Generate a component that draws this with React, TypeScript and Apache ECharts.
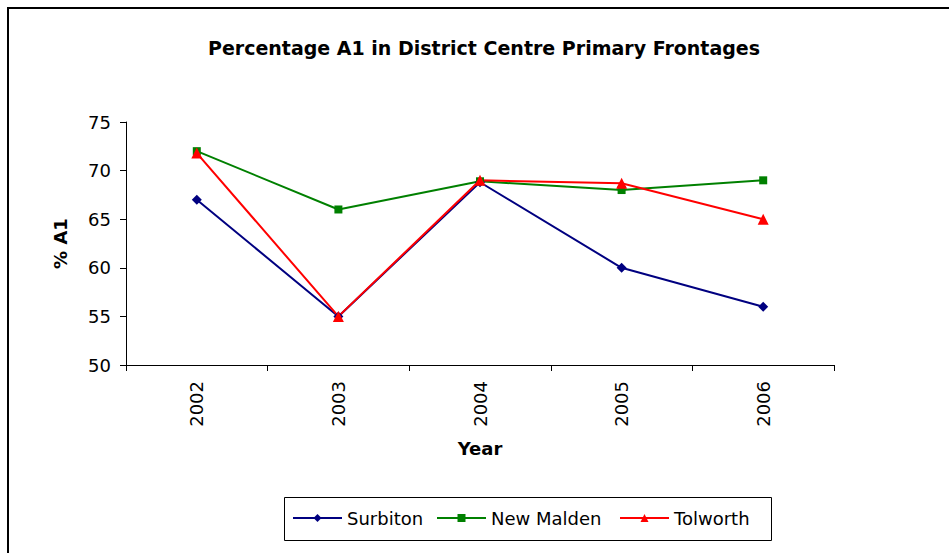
import React, { useEffect, useRef } from "react";
import * as echarts from "echarts";

const years = ["2002", "2003", "2004", "2005", "2006"];
const surbiton = [67, 55, 68.8, 60, 56];
const newMalden = [72, 66, 68.9, 68, 69];
const tolworth = [71.8, 55, 69, 68.7, 65];
const yTicks = { min: 50, max: 75, interval: 5 };
const seriesNames = ["Surbiton", "New Malden", "Tolworth"];

const FONT = "'DejaVu Sans', sans-serif";

export default function App() {
  const ref = useRef<HTMLDivElement>(null);
  useEffect(() => {
    if (!ref.current) return;
    const chart = echarts.init(ref.current, null, { renderer: "svg" });
    const axisText = { color: "#000", fontSize: 18, fontFamily: FONT };
    const legendLefts = [292, 436, 619];
    chart.setOption({
      animation: false,
      backgroundColor: "#fff",
      textStyle: { fontFamily: FONT, color: "#000" },
      graphic: [
        {
          type: "polyline",
          shape: { points: [[8, 553], [8, 8], [949, 8]] },
          style: { stroke: "#000", lineWidth: 2, fill: null },
          silent: true,
        },
        {
          type: "rect",
          shape: { x: 284.5, y: 497.5, width: 487, height: 43 },
          style: { stroke: "#000", lineWidth: 1, fill: null },
          silent: true,
        },
        {
          type: "text",
          x: 484,
          y: 48,
          style: {
            text: "Percentage A1 in District Centre Primary Frontages",
            font: `bold 19px ${FONT}`,
            fill: "#000",
            textAlign: "center",
            textVerticalAlign: "middle",
          },
        },
      ],
      grid: { left: 126, right: 115, top: 122, bottom: 188, containLabel: false },
      xAxis: {
        type: "category",
        data: years,
        boundaryGap: true,
        name: "Year",
        nameLocation: "middle",
        nameGap: 74,
        nameTextStyle: { color: "#000", fontSize: 18, fontWeight: "bold", fontFamily: FONT },
        axisLine: { show: true, lineStyle: { color: "#000", width: 1 } },
        axisTick: { show: true, inside: false, length: 6, alignWithLabel: false, lineStyle: { color: "#000" } },
        axisLabel: { ...axisText, rotate: 90, margin: 16, interval: 0 },
        splitLine: { show: false },
      },
      yAxis: {
        type: "value",
        min: yTicks.min,
        max: yTicks.max,
        interval: yTicks.interval,
        name: "% A1",
        nameLocation: "middle",
        nameGap: 57,
        nameRotate: 90,
        nameTextStyle: { color: "#000", fontSize: 18, fontWeight: "bold", fontFamily: FONT },
        axisLine: { show: true, lineStyle: { color: "#000", width: 1 } },
        axisTick: { show: true, inside: false, length: 6, lineStyle: { color: "#000" } },
        axisLabel: { ...axisText, margin: 15 },
        splitLine: { show: false },
      },
      legend: seriesNames.map((n, i) => ({
        left: legendLefts[i],
        top: 509,
        orient: "horizontal",
        padding: 0,
        itemWidth: 49,
        itemHeight: 10,
        selectedMode: false,
        textStyle: { color: "#000", fontSize: 18, fontFamily: FONT },
        data: [n],
      })),
      series: [
        {
          name: seriesNames[0],
          type: "line",
          data: surbiton,
          symbol: "diamond",
          symbolSize: 10,
          lineStyle: { color: "#000080", width: 2 },
          itemStyle: { color: "#000080" },
        },
        {
          name: seriesNames[1],
          type: "line",
          data: newMalden,
          symbol: "rect",
          symbolSize: 8,
          lineStyle: { color: "#008000", width: 2 },
          itemStyle: { color: "#008000" },
        },
        {
          name: seriesNames[2],
          type: "line",
          data: tolworth,
          symbol: "triangle",
          symbolSize: 11,
          lineStyle: { color: "#ff0000", width: 2 },
          itemStyle: { color: "#ff0000" },
        },
      ],
    });
    return () => chart.dispose();
  }, []);
  return (
    <div
      ref={ref}
      style={{ position: "fixed", left: 0, top: 0, width: 949, height: 553, background: "#fff" }}
    />
  );
}
